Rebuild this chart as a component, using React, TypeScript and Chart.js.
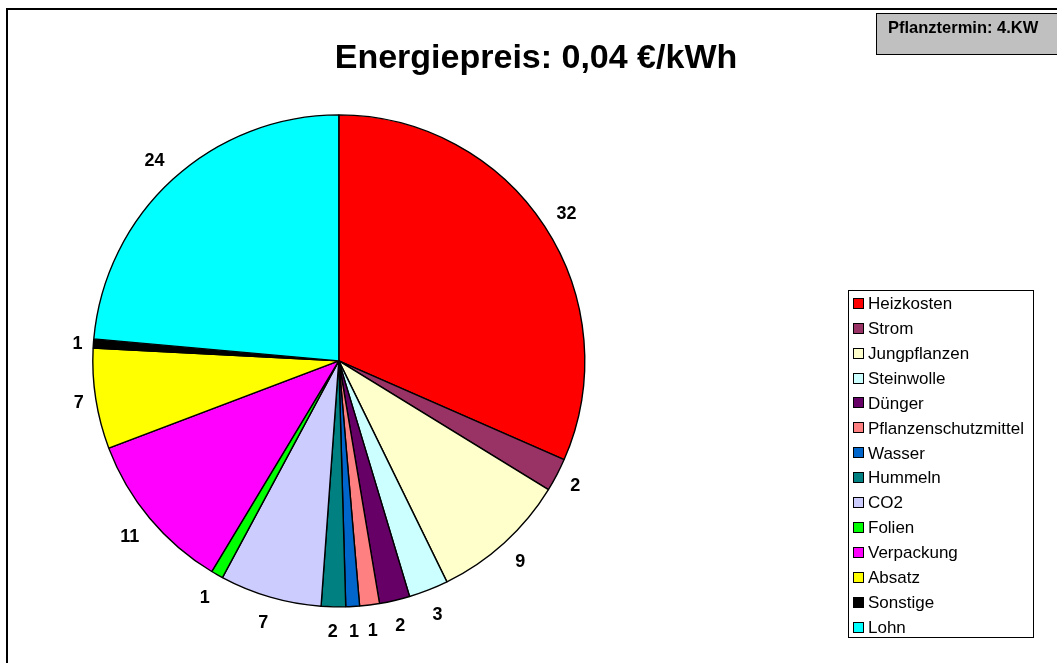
import React, { useEffect, useRef } from "react";
import { Chart, registerables } from "chart.js";

Chart.register(...registerables);

const categories = [
  "Heizkosten",
  "Strom",
  "Jungpflanzen",
  "Steinwolle",
  "Dünger",
  "Pflanzenschutzmittel",
  "Wasser",
  "Hummeln",
  "CO2",
  "Folien",
  "Verpackung",
  "Absatz",
  "Sonstige",
  "Lohn",
];

const shares = [31.6, 2.2, 9.0, 2.6, 2.0, 1.3, 0.9, 1.6, 6.7, 0.8, 10.6, 6.6, 0.6, 23.6];

const sliceColors = [
  "#FF0000",
  "#993366",
  "#FFFFCC",
  "#CCFFFF",
  "#660066",
  "#FF8080",
  "#0066CC",
  "#008080",
  "#CCCCFF",
  "#00FF00",
  "#FF00FF",
  "#FFFF00",
  "#000000",
  "#00FFFF",
];

const titleText = "Energiepreis: 0,04 €/kWh";
const boxText = "Pflanztermin: 4.KW";

const FONT = "'Liberation Sans', Arial, sans-serif";

const decorPlugin = {
  id: "decor",
  beforeDraw(chart: any) {
    const ctx = chart.ctx;
    ctx.save();
    ctx.fillStyle = "#FFFFFF";
    ctx.fillRect(0, 0, chart.width, chart.height);
    ctx.fillStyle = "#000000";
    ctx.fillRect(6, 8, chart.width, 2);
    ctx.fillRect(6, 8, 2, chart.height);
    ctx.restore();
  },
  afterDatasetsDraw(chart: any) {
    const ctx = chart.ctx;
    const meta = chart.getDatasetMeta(0);
    const values = chart.data.datasets[0].data as number[];
    ctx.save();
    ctx.font = `bold 18px ${FONT}`;
    ctx.fillStyle = "#000000";
    ctx.textAlign = "center";
    ctx.textBaseline = "alphabetic";
    meta.data.forEach((arc: any, i: number) => {
      const p = arc.getProps(["startAngle", "endAngle", "x", "y", "outerRadius"], true);
      const mid = (p.startAngle + p.endAngle) / 2;
      const txt = String(Math.round(values[i]));
      const halfW = ctx.measureText(txt).width / 2;
      const r = p.outerRadius + 10 + halfW * Math.abs(Math.cos(mid)) + 14 * Math.abs(Math.sin(mid));
      const lx = p.x + r * Math.cos(mid);
      const ly = p.y + r * Math.sin(mid);
      ctx.fillText(txt, lx, ly + 6.5);
    });
    ctx.restore();
  },
  afterDraw(chart: any) {
    const ctx = chart.ctx;
    ctx.save();
    ctx.font = `bold 34px ${FONT}`;
    ctx.fillStyle = "#000000";
    ctx.textAlign = "center";
    ctx.textBaseline = "alphabetic";
    ctx.fillText(titleText, 536, 68);

    ctx.fillStyle = "#C0C0C0";
    ctx.fillRect(876, 13, 200, 42);
    ctx.strokeStyle = "#000000";
    ctx.lineWidth = 1;
    ctx.strokeRect(876.5, 13.5, 200, 41);
    ctx.fillStyle = "#000000";
    ctx.font = `bold 16.5px ${FONT}`;
    ctx.textAlign = "left";
    ctx.fillText(boxText, 888, 33);

    ctx.fillStyle = "#FFFFFF";
    ctx.fillRect(848, 290, 186, 347);
    ctx.strokeStyle = "#000000";
    ctx.strokeRect(848.5, 290.5, 185, 347);
    ctx.font = `17px ${FONT}`;
    ctx.textBaseline = "middle";
    const labels = chart.data.labels as string[];
    const colors = chart.data.datasets[0].backgroundColor as string[];
    labels.forEach((lab, i) => {
      const cy = 303.3 + i * 24.92;
      ctx.fillStyle = colors[i];
      ctx.fillRect(853, Math.round(cy - 5.5), 11, 11);
      ctx.strokeStyle = "#000000";
      ctx.strokeRect(853.5, Math.round(cy - 5.5) + 0.5, 10, 10);
      ctx.fillStyle = "#000000";
      ctx.fillText(lab, 868, cy + 1);
    });
    ctx.restore();
  },
};

export default function App() {
  const canvasRef = useRef<HTMLCanvasElement | null>(null);

  useEffect(() => {
    if (!canvasRef.current) return;
    const chart = new Chart(canvasRef.current, {
      type: "pie",
      data: {
        labels: categories,
        datasets: [
          {
            data: shares,
            backgroundColor: sliceColors,
            borderColor: "#000000",
            borderWidth: 1.4,
            hoverOffset: 0,
          },
        ],
      },
      options: {
        responsive: false,
        animation: false,
        devicePixelRatio: 1,
        radius: 246,
        layout: {
          padding: { left: 88, right: 467.4, top: 110, bottom: 51.2 },
        },
        plugins: {
          legend: { display: false },
          title: { display: false },
          tooltip: { enabled: false },
        },
      } as any,
      plugins: [decorPlugin],
    });
    return () => chart.destroy();
  }, []);

  return (
    <div style={{ position: "absolute", left: 0, top: 0, width: 1057, height: 663 }}>
      <canvas ref={canvasRef} width={1057} height={663} />
    </div>
  );
}
